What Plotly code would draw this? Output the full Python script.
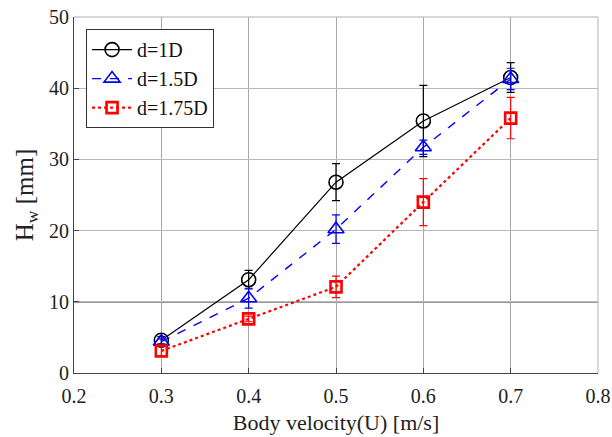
import plotly.graph_objects as go

velocity = [0.3, 0.4, 0.5, 0.6, 0.7]

h_1d = [4.6, 13.1, 26.8, 35.4, 41.5]
err_1d = [0.5, 1.3, 2.6, 5.0, 2.1]

h_15d = [4.4, 10.5, 20.2, 31.7, 41.3]
err_15d = [0.4, 1.4, 2.0, 1.0, 1.5]

h_175d = [3.1, 7.6, 12.1, 24.0, 35.8]
err_175d = [0.7, 0.4, 1.5, 3.3, 2.9]

x_ticks = [0.2, 0.3, 0.4, 0.5, 0.6, 0.7, 0.8]
y_ticks = [0, 10, 20, 30, 40, 50]

FONT = "Times New Roman, Liberation Serif, serif"

fig = go.Figure()

fig.add_trace(go.Scatter(
    x=velocity, y=h_1d, name="d=1D", mode="lines+markers",
    line=dict(color="black", width=1.2),
    marker=dict(symbol="circle-open", size=14, color="black", line=dict(width=1.6)),
    error_y=dict(type="data", array=err_1d, color="black", thickness=1.2, width=4),
))
fig.add_trace(go.Scatter(
    x=velocity, y=h_15d, name="d=1.5D", mode="lines+markers",
    line=dict(color="#0000ff", width=1.4, dash="dash"),
    marker=dict(symbol="triangle-up-open", size=14, color="#0000ff", line=dict(width=1.6)),
    error_y=dict(type="data", array=err_15d, color="#0000ff", thickness=1.2, width=4),
))
fig.add_trace(go.Scatter(
    x=velocity, y=h_175d, name="d=1.75D", mode="lines+markers",
    line=dict(color="#ff0000", width=2.2, dash="dot"),
    marker=dict(symbol="square-open", size=11, color="#ff0000", line=dict(width=2.6)),
    error_y=dict(type="data", array=err_175d, color="#ff0000", thickness=1.2, width=4),
))

# dark reference line at y = 10
fig.add_shape(type="line", xref="paper", yref="y", x0=0, x1=1, y0=10, y1=10,
              line=dict(color="#333333", width=1.5), layer="below")
# light box on top/right
fig.add_shape(type="line", xref="paper", yref="paper", x0=0, x1=1, y0=1, y1=1,
              line=dict(color="#b0b0b0", width=1), layer="below")
fig.add_shape(type="line", xref="paper", yref="paper", x0=1, x1=1, y0=0, y1=1,
              line=dict(color="#b0b0b0", width=1), layer="below")

fig.update_layout(
    width=612, height=437,
    margin=dict(l=74, r=14, t=17, b=64, autoexpand=False),
    paper_bgcolor="white", plot_bgcolor="white",
    font=dict(family=FONT, size=20, color="#222222"),
    showlegend=True,
    legend=dict(
        x=0.023, y=0.966, xanchor="left", yanchor="top",
        bgcolor="white", bordercolor="#333333", borderwidth=1,
        font=dict(family=FONT, size=20, color="#111111"),
        itemwidth=40, tracegroupgap=0,
    ),
    xaxis=dict(
        range=[0.2, 0.8], tickvals=x_ticks, ticktext=[f"{v:.1f}" for v in x_ticks],
        showgrid=True, gridcolor="#a8a8a8", gridwidth=1,
        showline=True, linecolor="#444444", linewidth=1.2,
        ticks="inside", ticklen=5, tickcolor="#444444",
        ticklabelstandoff=5,
        zeroline=False, automargin=False,
        title=dict(text="Body velocity(U) [m/s]", font=dict(family=FONT, size=22), standoff=8),
    ),
    yaxis=dict(
        range=[0, 50], tickvals=y_ticks,
        showgrid=True, gridcolor="#b8b8b8", gridwidth=1,
        showline=True, linecolor="#444444", linewidth=1.2,
        ticks="inside", ticklen=5, tickcolor="#444444",
        zeroline=False, automargin=False,
        title=dict(text="H<sub>w</sub> [mm]", font=dict(family=FONT, size=25), standoff=8),
    ),
)

fig.write_html("out.html")
